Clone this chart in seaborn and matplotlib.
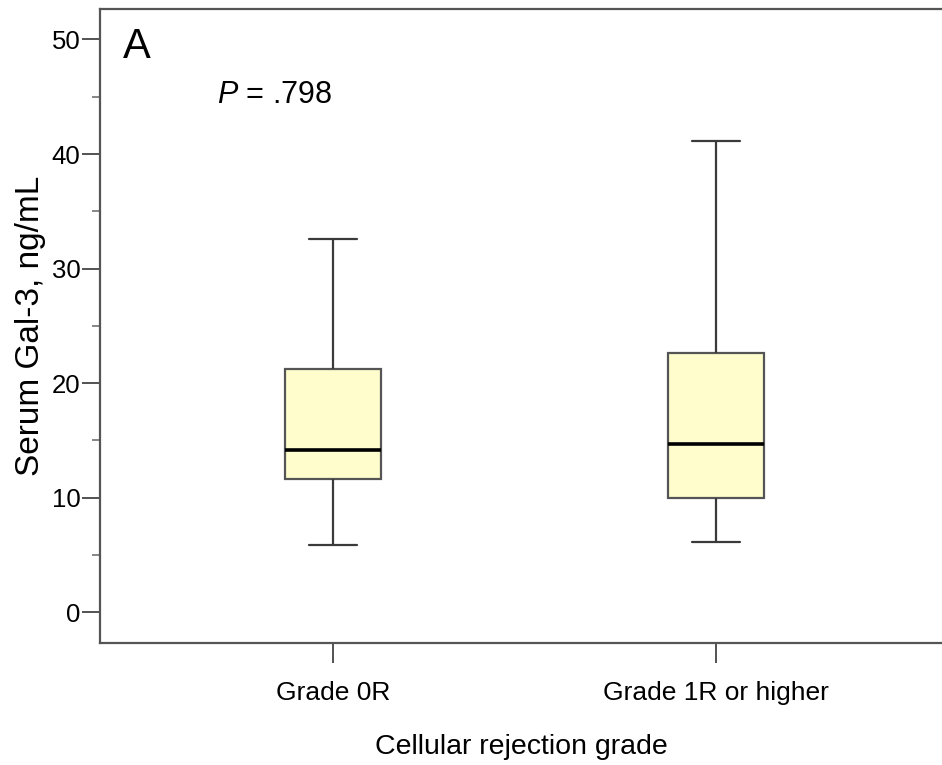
import numpy as np
import pandas as pd
import matplotlib
matplotlib.use("Agg")
import matplotlib.pyplot as plt
import seaborn as sns
from matplotlib.ticker import MultipleLocator

# ---- data (five-number summaries) ----
categories = ["Grade 0R", "Grade 1R or higher"]
lower_whisker = [5.85, 6.1]
q1 = [11.6, 10.0]
median = [14.15, 14.65]
q3 = [21.2, 22.6]
upper_whisker = [32.55, 41.1]
y_ticks = [0, 10, 20, 30, 40, 50]
p_text = ".798"

rows = []
for i, c in enumerate(categories):
    for v in (lower_whisker[i], q1[i], median[i], q3[i], upper_whisker[i]):
        rows.append({"grade": c, "gal3": v})
df = pd.DataFrame(rows)

sns.set_theme(style="ticks")
plt.rcParams["font.family"] = ["Liberation Sans", "DejaVu Sans"]
plt.rcParams["mathtext.fontset"] = "custom"
plt.rcParams["mathtext.it"] = "Liberation Sans:italic"
plt.rcParams["mathtext.rm"] = "Liberation Sans"

fig = plt.figure(figsize=(9.42, 7.65), dpi=100)
ax = fig.add_axes([100 / 942, 1 - 643 / 765, 1 - 100 / 942, (643 - 9) / 765])

edge = "#3a3a3a"
sns.boxplot(
    data=df, x="grade", y="gal3", order=categories, ax=ax,
    whis=(0, 100), width=0.25, color="#FEFDCB", saturation=1,
    showfliers=False,
    boxprops=dict(facecolor="#FEFDCB", edgecolor="#555555", linewidth=1.6),
    medianprops=dict(color="black", linewidth=2.6),
    whiskerprops=dict(color=edge, linewidth=1.6),
    capprops=dict(color=edge, linewidth=1.6),
)

ax.set_xlim(-0.608, 1.59)
ax.set_ylim(-2.68, 52.66)
ax.set_yticks(y_ticks)
ax.yaxis.set_minor_locator(MultipleLocator(5))

for side in ("left", "bottom", "top"):
    ax.spines[side].set_color("#555555")
    ax.spines[side].set_linewidth(1.6)
ax.spines["right"].set_visible(False)

ax.tick_params(axis="y", which="major", length=13, width=1.3, color="#444444",
               labelsize=18.5, pad=1, labelcolor="black")
ax.tick_params(axis="y", which="minor", length=6, width=1.1, color="#666666")
ax.tick_params(axis="x", which="major", length=14.5, width=1.3, color="#444444",
               labelsize=19, pad=13, labelcolor="black")

ax.set_xlabel("Cellular rejection grade", fontsize=20.5, labelpad=21, color="black")
ax.set_ylabel("Serum Gal-3, ng/mL", fontsize=24, labelpad=4, color="black")

ax.text(-0.548, 48.4, "A", fontsize=30, va="baseline", ha="left", color="black")
ax.text(-0.303, 44.45, r"$\mathit{P}$ = " + p_text, fontsize=22,
        va="baseline", ha="left", color="black")

fig.savefig("out.png", dpi=100, facecolor="white")
